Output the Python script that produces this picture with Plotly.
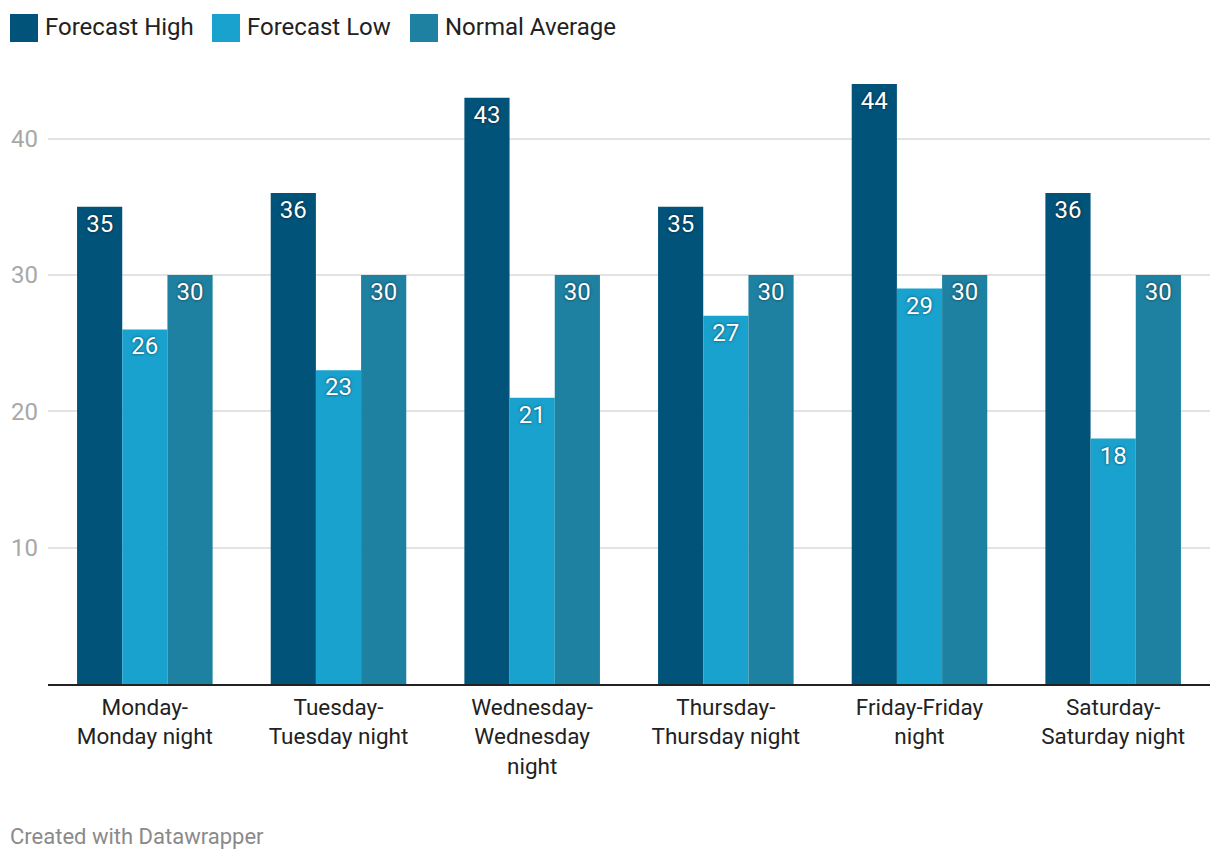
import plotly.graph_objects as go

categories = ["Monday-Monday night", "Tuesday-Tuesday night", "Wednesday-Wednesday night",
              "Thursday-Thursday night", "Friday-Friday night", "Saturday-Saturday night"]
tick_labels = ["Monday-<br>Monday night", "Tuesday-<br>Tuesday night", "Wednesday-<br>Wednesday<br>night",
               "Thursday-<br>Thursday night", "Friday-Friday<br>night", "Saturday-<br>Saturday night"]
forecast_high = [35, 36, 43, 35, 44, 36]
forecast_low = [26, 23, 21, 27, 29, 18]
normal_average = [30, 30, 30, 30, 30, 30]
series_names = ["Forecast High", "Forecast Low", "Normal Average"]
colors = ["#02537a", "#1aa2ce", "#1f81a2"]

# page is rendered with an 8px body margin
OFF = 8
PAGE_W, PAGE_H = 1220, 862
W, H = PAGE_W - OFF, PAGE_H - OFF
PLOT_L, PLOT_R, PLOT_T, PLOT_B = 48, 1210, 84, 684  # page coordinates
L = PLOT_L - OFF
R = PAGE_W - PLOT_R
T = PLOT_T - OFF
B = PAGE_H - PLOT_B
PW, PH = PLOT_R - PLOT_L, PLOT_B - PLOT_T

def px_x(p):
    return (p - PLOT_L) / PW

def px_y(p):
    return (PLOT_B - p) / PH

fig = go.Figure()
for name, vals, col in zip(series_names, [forecast_high, forecast_low, normal_average], colors):
    fig.add_trace(go.Bar(
        x=categories, y=vals, name=name, marker=dict(color=col, line=dict(width=0)),
        text=[str(v) for v in vals], textposition="inside", insidetextanchor="end",
        textangle=0, constraintext="none",
        textfont=dict(family="Roboto", size=24, color="white", shadow="0px 0px 3px rgba(0,0,0,0.6)"),
        showlegend=False,
    ))

# custom legend
legend_x = [10, 212, 410]
for name, col, lx in zip(series_names, colors, legend_x):
    fig.add_shape(type="rect", xref="paper", yref="paper",
                  x0=px_x(lx), x1=px_x(lx + 28), y0=px_y(42), y1=px_y(14),
                  fillcolor=col, line=dict(width=0))
    fig.add_annotation(xref="paper", yref="paper", x=px_x(lx + 33), y=px_y(27),
                       text=name, showarrow=False, xanchor="left", yanchor="middle",
                       font=dict(family="Roboto", size=24, color="#222222"))

fig.add_annotation(xref="paper", yref="paper", x=px_x(8), y=px_y(837),
                   text="Created with Datawrapper", showarrow=False,
                   xanchor="left", yanchor="middle",
                   font=dict(family="Roboto", size=22, color="#8a8a8a"))

fig.update_layout(
    width=W, height=H,
    margin=dict(l=L, r=R, t=T, b=B, pad=0, autoexpand=False),
    paper_bgcolor="white", plot_bgcolor="white",
    barmode="group", bargap=0.30, bargroupgap=0,
    font=dict(family="Roboto", size=22, color="#222222"),
    xaxis=dict(tickmode="array", tickvals=categories, ticktext=tick_labels,
               showline=True, linecolor="#222222", linewidth=2, ticks="",
               showgrid=False, tickfont=dict(size=22.5, color="#222222"),
               ticklabelstandoff=2, automargin=False),
    yaxis=dict(range=[0, 44], tickvals=[10, 20, 30, 40], showgrid=True,
               gridcolor="#e3e3e3", gridwidth=2, zeroline=False, showline=False,
               ticks="", tickfont=dict(size=24, color="#a8a8a8"),
               ticklabelstandoff=9, automargin=False),
)

fig.write_html("out.html")
